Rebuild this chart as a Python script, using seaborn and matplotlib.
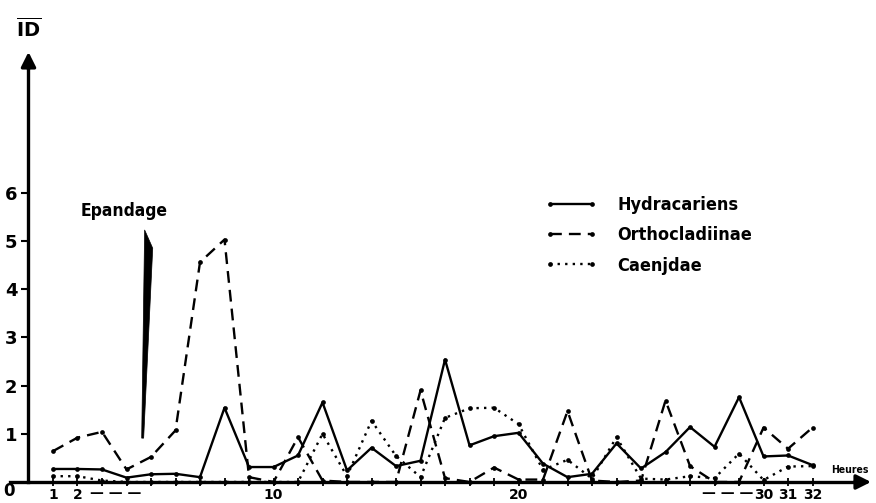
import matplotlib
matplotlib.use('Agg')
import matplotlib.pyplot as plt
import seaborn as sns
import pandas as pd
from matplotlib import font_manager as fm

hours = list(range(1, 33))
hydracariens = [0.27, 0.27, 0.26, 0.09, 0.16, 0.17, 0.10, 1.54, 0.31, 0.31,
                0.55, 1.65, 0.24, 0.71, 0.33, 0.44, 2.54, 0.76, 0.95, 1.02,
                0.38, 0.10, 0.17, 0.80, 0.28, 0.62, 1.14, 0.73, 1.76, 0.53,
                0.55, 0.35]
orthocladiinae = [0.64, 0.92, 1.04, 0.26, 0.52, 1.07, 4.56, 5.03, 0.10, 0.0,
                  0.93, 0.03, 0.0, 0.0, 0.0, 1.90, 0.08, 0.0, 0.30, 0.05,
                  0.05, 1.47, 0.03, 0.0, 0.03, 1.69, 0.33, 0.0, 0.0, 1.13,
                  0.69, 1.13]
caenidae = [0.12, 0.12, 0.03, 0.0, 0.0, 0.0, 0.0, 0.0, 0.0, 0.0,
            0.0, 1.00, 0.12, 1.27, 0.54, 0.10, 1.33, 1.53, 1.54, 1.20,
            0.25, 0.46, 0.07, 0.93, 0.07, 0.05, 0.12, 0.08, 0.59, 0.04,
            0.32, 0.33]
series_names = ['Hydracariens', 'Orthocladiinae', 'Caenjdae']
y_ticks = [1, 2, 3, 4, 5, 6]
x_tick_labels = {1: '1', 2: '2', 10: '10', 20: '20', 30: '30', 31: '31', 32: '32'}

df = pd.DataFrame({'Heures': hours, 'Hydracariens': hydracariens,
                   'Orthocladiinae': orthocladiinae, 'Caenjdae': caenidae})

sns.set_style('white')
plt.rcParams['font.family'] = ['DejaVu Sans']
for k in ['text.color', 'axes.labelcolor', 'xtick.color', 'ytick.color', 'axes.edgecolor']:
    plt.rcParams[k] = 'black'

cond = fm.FontProperties(family='DejaVu Sans', stretch='condensed', weight='bold', size=13)

fig = plt.figure(figsize=(8.76, 5.03), dpi=100)
ax = fig.add_axes([0, 0, 1, 1])
ax.set_xlim(-1.163, 34.59)
ax.set_ylim(-0.436, 10.0)

styles = {
    'Hydracariens': dict(linestyle='-'),
    'Orthocladiinae': dict(linestyle=(0, (5, 3))),
    'Caenjdae': dict(linestyle=(0, (1, 2.2))),
}
for name in series_names:
    sns.lineplot(data=df, x='Heures', y=name, ax=ax, color='black',
                 linewidth=1.7, marker='o', markersize=3.4, markeredgewidth=0,
                 label=name, clip_on=False, **styles[name])

for s in ['top', 'right']:
    ax.spines[s].set_visible(False)
ax.spines['left'].set_position(('data', 0))
ax.spines['bottom'].set_position(('data', 0))
ax.spines['left'].set_bounds(0, 8.7)
ax.spines['bottom'].set_bounds(-0.75, 33.8)
ax.spines['left'].set_linewidth(2.4)
ax.spines['bottom'].set_linewidth(2.4)
ax.spines['left'].set_zorder(5)
ax.spines['bottom'].set_zorder(5)
ax.annotate('', xy=(0, 8.98), xytext=(0, 8.5),
            arrowprops=dict(arrowstyle='-|>', color='black', lw=2.4,
                            mutation_scale=22), annotation_clip=False)
ax.annotate('', xy=(34.5, 0), xytext=(33.6, 0),
            arrowprops=dict(arrowstyle='-|>', color='black', lw=2.4,
                            mutation_scale=22), annotation_clip=False)

ax.set_yticks(y_ticks)
ax.set_yticklabels([str(v) for v in y_ticks], fontsize=13, fontweight='bold')
ax.set_xticks(hours)
ax.set_xticklabels([x_tick_labels.get(h, '') for h in hours], fontsize=10,
                   fontweight='bold')
ax.tick_params(axis='y', direction='out', length=5, width=1.5, pad=3, left=True)
ax.tick_params(axis='x', direction='inout', length=6, width=1.3, pad=1, bottom=True)
ax.set_xlabel('')
ax.set_ylabel('')
ax.grid(False)

ax.text(-0.78, -0.19, '0', fontsize=12, fontweight='bold', ha='center', va='center')
ax.text(2.5, -0.22, '— — —', fontsize=10, fontweight='bold', ha='left', va='center')
ax.text(29.6, -0.22, '— — —', fontsize=10, fontweight='bold', ha='right', va='center')
ax.text(34.3, 0.25, 'Heures', fontproperties=cond, fontsize=7.5, ha='right', va='center')
ax.text(0.0, 9.4, r'$\overline{\mathbf{ID}}$', fontsize=14, ha='center', va='center')

ax.text(3.9, 5.62, 'Epandage', fontproperties=cond, fontsize=12.5, ha='center', va='center')
ax.fill([4.62, 4.74, 5.07, 4.70], [0.91, 5.23, 4.85, 0.91], color='black', lw=0.5)

leg = ax.legend(loc='upper left', bbox_to_anchor=(0.622, 0.610), frameon=False,
                numpoints=2, handlelength=2.9, handletextpad=1.1, labelspacing=0.68,
                borderpad=0, borderaxespad=0, prop=cond)

fig.savefig('out.png', dpi=100, facecolor='white')
